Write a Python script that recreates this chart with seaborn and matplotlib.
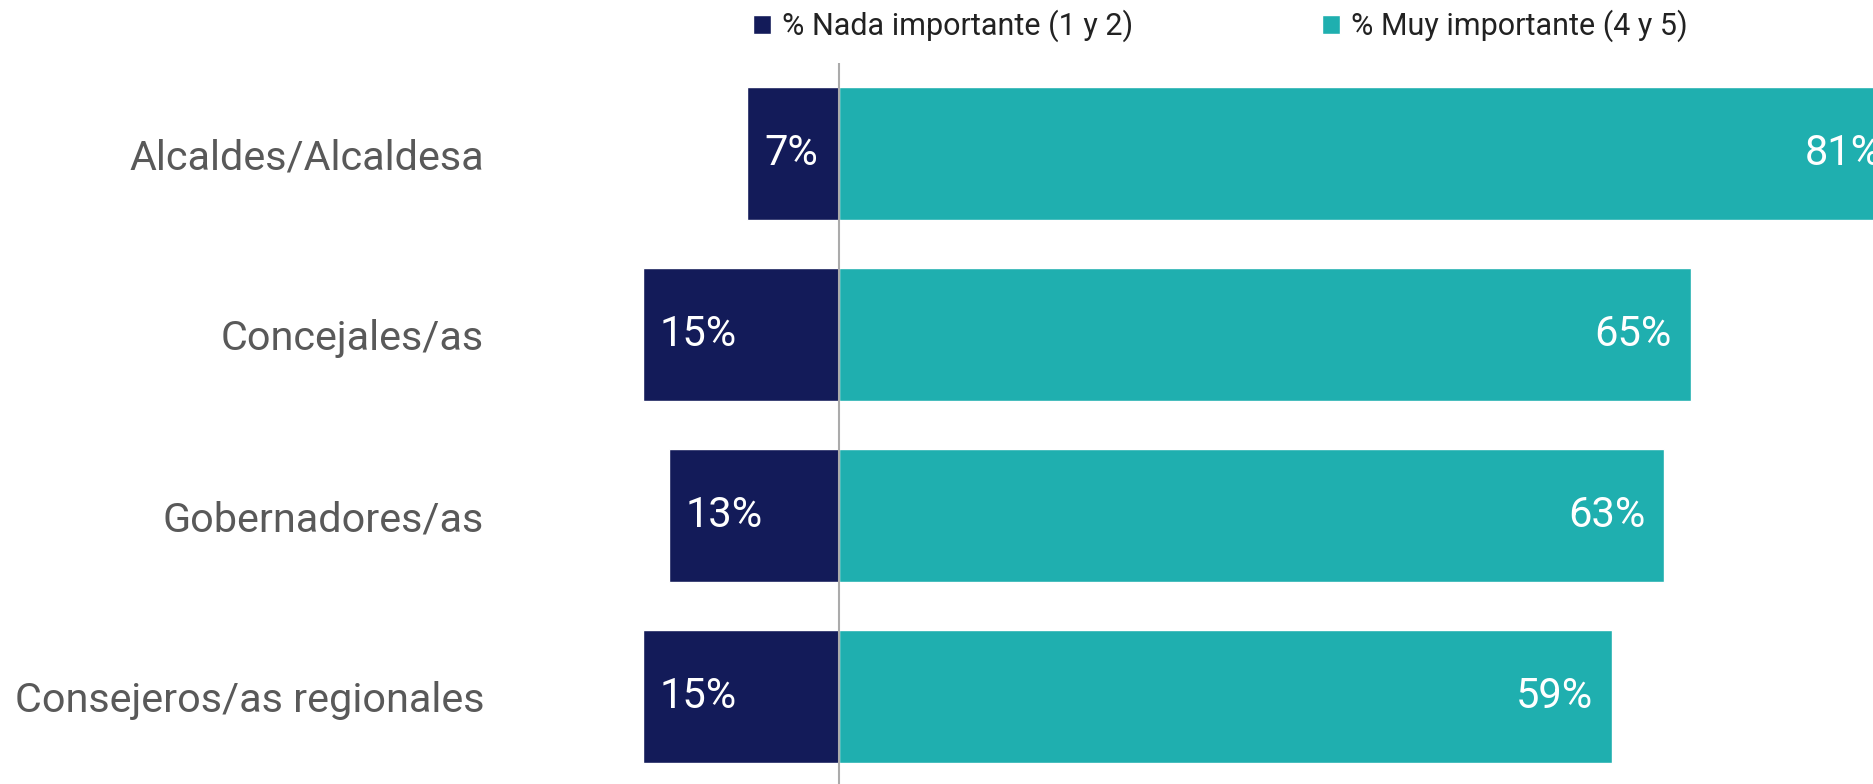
import matplotlib
matplotlib.use("Agg")
import matplotlib.pyplot as plt
from matplotlib.patches import Patch
import seaborn as sns
import pandas as pd

categories = ["Alcaldes/Alcaldesa", "Concejales/as", "Gobernadores/as", "Consejeros/as regionales"]
nada_importante = [7, 15, 13, 15]
muy_importante = [81, 65, 63, 59]
series_names = ["% Nada importante (1 y 2)", "% Muy importante (4 y 5)"]

NAVY = "#131B59"
TEAL = "#1FAFAF"
GRAY = "#595959"

sns.set_theme(style="white")
plt.rcParams["font.family"] = ["Roboto", "DejaVu Sans"]

W, H = 1873, 784
fig = plt.figure(figsize=(W / 100, H / 100), dpi=100)
ax_left_px = 500
top_px = 63
ax = fig.add_axes([ax_left_px / W, 0, 1 - ax_left_px / W, 1 - top_px / H])

df = pd.DataFrame({"cat": categories,
                   "nada": [-v for v in nada_importante],
                   "muy": muy_importante})

sns.barplot(data=df, x="nada", y="cat", color=NAVY, width=0.735, ax=ax,
            saturation=1, orient="h")
sns.barplot(data=df, x="muy", y="cat", color=TEAL, width=0.735, ax=ax,
            saturation=1, orient="h")

px_per_pct = 13.1
zero_px = 839
ax.set_xlim(-(zero_px - ax_left_px) / px_per_pct, (W - zero_px) / px_per_pct)
ax.set_ylim(3.483, -0.5)

ax.axvline(0, color="#ABABAB", lw=1.5, zorder=3)

for i, (n, m) in enumerate(zip(nada_importante, muy_importante)):
    ax.annotate(f"{n}%", xy=(-n, i), xytext=(12, 0), textcoords="offset points",
                ha="left", va="center", color="white", fontsize=30,
                annotation_clip=False)
    ax.annotate(f"{m}%", xy=(m, i), xytext=(-13.5, 0), textcoords="offset points",
                ha="right", va="center", color="white", fontsize=30,
                annotation_clip=False)

for s in ax.spines.values():
    s.set_visible(False)
ax.set_xlabel("")
ax.set_ylabel("")
ax.set_xticks([])
ax.tick_params(axis="y", length=0, pad=11.5, labelsize=29.8, labelcolor=GRAY)

handles = [Patch(facecolor=NAVY, label=series_names[0]),
           Patch(facecolor=TEAL, label=series_names[1])]
fig.legend(handles=handles, ncol=2, loc="center left",
           bbox_to_anchor=(753 / W, 1 - 26 / H), frameon=False,
           fontsize=22, handlelength=0.58, handleheight=0.58,
           handletextpad=0.36, columnspacing=6.2, borderpad=0,
           borderaxespad=0, labelcolor="#222222")

fig.savefig("out.png", dpi=100)
